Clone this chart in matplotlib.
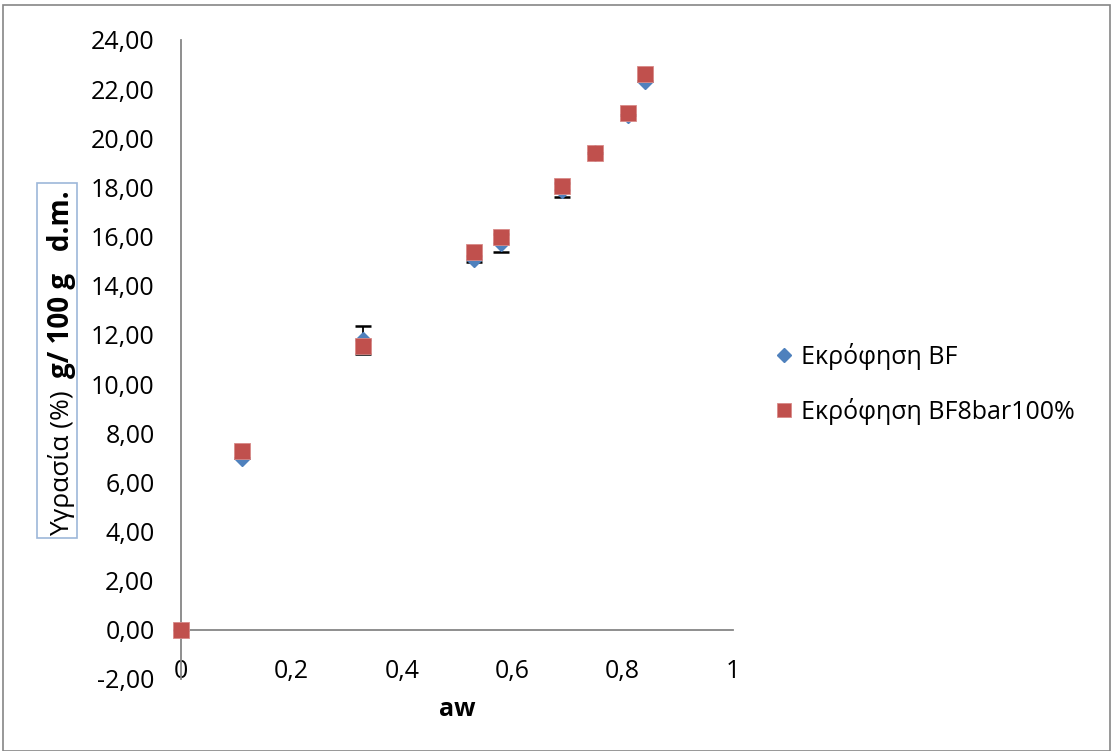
import numpy as np
import matplotlib
matplotlib.use('Agg')
import matplotlib.pyplot as plt
from matplotlib.patches import Rectangle
from matplotlib.ticker import FuncFormatter, MultipleLocator

plt.rcParams['font.family'] = ['Open Sans', 'DejaVu Sans']

# data
aw = [0.0, 0.11, 0.33, 0.53, 0.58, 0.69, 0.75, 0.81, 0.84]
bf = [0.0, 7.00, 11.80, 15.07, 15.75, 17.90, 19.40, 20.93, 22.32]
bf_err = [0.0, 0.0, 0.57, 0.12, 0.37, 0.30, 0.0, 0.0, 0.0]
bf8 = [0.0, 7.26, 11.53, 15.38, 16.00, 18.07, 19.42, 21.03, 22.60]

blue = '#4F81BD'
red = '#C0504D'
grey = '#868686'
FS = 18

fig = plt.figure(figsize=(11.13, 7.51), dpi=100)
ax = fig.add_axes([0.1626, 0.0959, 0.496, 0.8509])

ax.errorbar(aw, bf, yerr=bf_err, fmt='none', ecolor='black', elinewidth=1.3,
            capsize=6, capthick=1.8, zorder=2)
ax.plot(aw, bf, linestyle='none', marker='D', markersize=8, color=blue,
        markeredgecolor=blue, label='Εκρόφηση BF', zorder=3, clip_on=False)
ax.plot(aw, bf8, linestyle='none', marker='s', markersize=11, color=red,
        markeredgecolor='#D88A88', markeredgewidth=0.6,
        label='Εκρόφηση BF8bar100%', zorder=4, clip_on=False)

ax.set_xlim(0, 1)
ax.set_ylim(-2, 24)
ax.yaxis.set_major_locator(MultipleLocator(2))
ax.xaxis.set_major_locator(MultipleLocator(0.2))
ax.yaxis.set_major_formatter(FuncFormatter(lambda v, p: f'{v:.2f}'.replace('.', ',')))
ax.xaxis.set_major_formatter(
    FuncFormatter(lambda v, p: '0' if abs(v) < 1e-9 else ('1' if abs(v - 1) < 1e-9 else f'{v:.1f}'.replace('.', ','))))

for s in ['top', 'right']:
    ax.spines[s].set_visible(False)
ax.spines['left'].set_color(grey)
ax.spines['left'].set_linewidth(1.3)
ax.spines['bottom'].set_color(grey)
ax.spines['bottom'].set_linewidth(1.3)
ax.spines['bottom'].set_position(('data', 0))
ax.tick_params(length=0, labelsize=FS, colors='black')
ax.tick_params(axis='y', pad=19)
ax.tick_params(axis='x', pad=21)
ax.patch.set_alpha(0)

fig.text(457 / 1113, 1 - 710 / 751, 'aw', fontsize=FS, fontweight='bold',
         ha='center', va='center')

# y label in a box, normal + bold parts
fig.patches.append(Rectangle((37 / 1113, 1 - 538 / 751), 40 / 1113, 355 / 751,
                             transform=fig.transFigure, fill=False,
                             edgecolor='#9DB7D9', linewidth=1.2))
t1 = fig.text(62 / 1113, 1 - 536 / 751, 'Υγρασία (%)', fontsize=19, rotation=90,
              ha='center', va='bottom')
fig.canvas.draw()
bb = t1.get_window_extent()
top = bb.y1 / fig.bbox.height
fig.text(62 / 1113, top + 12 / 751, 'g/ 100 g   d.m.', fontsize=20, rotation=90,
         fontweight='bold', ha='center', va='bottom')

leg = fig.legend(loc='center left', bbox_to_anchor=(0.671, 0.489), frameon=False,
                 fontsize=FS, handletextpad=0.05, labelspacing=1.1,
                 handlelength=1.2, markerscale=0.9)

fig.patches.append(Rectangle((0.003, 0.0), 0.994, 0.993, transform=fig.transFigure,
                             fill=False, edgecolor=grey, linewidth=1.2))

fig.savefig('out.png', dpi=100)
